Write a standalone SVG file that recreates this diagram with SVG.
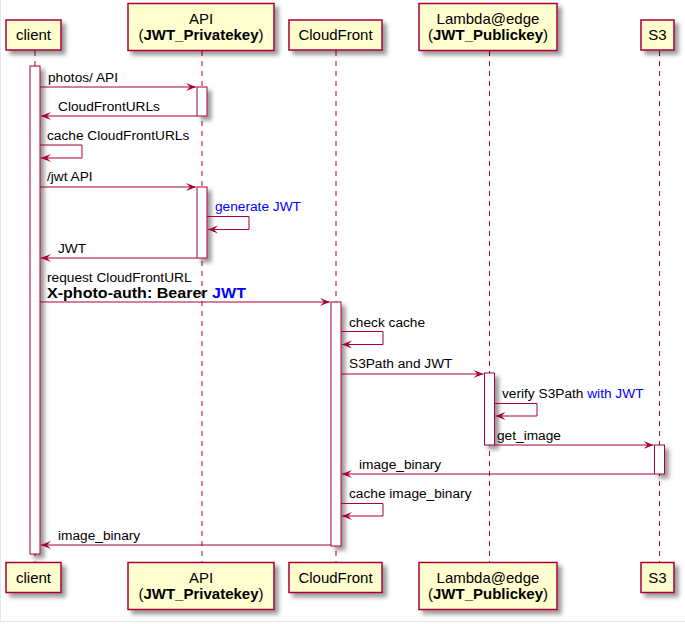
<svg xmlns="http://www.w3.org/2000/svg" width="685" height="624" viewBox="0 0 685 624">
<style>
.box{fill:#FEFECE;stroke:#A80036;stroke-width:1.5}
.act{fill:#FFFFFF;stroke:#A80036;stroke-width:1}
.life{stroke:#A80036;stroke-width:1;stroke-dasharray:5,5;fill:none}
.msg{stroke:#A80036;stroke-width:1;fill:none;marker-end:url(#ah)}
.pt{font-family:"Liberation Sans",Arial,sans-serif;font-size:15px;fill:#000;text-anchor:middle}
.mt{font-family:"Liberation Sans",Arial,sans-serif;font-size:13.7px;fill:#000}
.b{font-weight:bold}
.blue{fill:#0000FF}
</style>
<defs>
<filter id="sh" x="-1" y="-1" width="300%" height="300%">
<feGaussianBlur result="b1" stdDeviation="2"/>
<feColorMatrix in="b1" result="b2" type="matrix" values="0 0 0 0 0 0 0 0 0 0 0 0 0 0 0 0 0 0 .4 0"/>
<feOffset dx="4" dy="4" in="b2" result="b3"/>
<feBlend in="SourceGraphic" in2="b3" mode="normal"/>
</filter>
<marker id="ah" markerUnits="userSpaceOnUse" markerWidth="11" markerHeight="9" refX="10" refY="4" orient="auto" viewBox="0 0 11 9">
<path d="M0,0 L10,4 L0,8 L4,4 Z" fill="#A80036"/>
</marker>
</defs>
<rect x="0" y="0" width="685" height="624" fill="#FFFFFF"/>
<line x1="0.5" y1="0" x2="0.5" y2="622" stroke="#E6E6E6"/>
<line x1="0" y1="621.5" x2="685" y2="621.5" stroke="#E6E6E6"/>

<g id="lifelines">
<line class="life" x1="35" y1="51" x2="35" y2="562"/>
<line class="life" x1="202" y1="51" x2="202" y2="562"/>
<line class="life" x1="336" y1="51" x2="336" y2="562"/>
<line class="life" x1="489.5" y1="51" x2="489.5" y2="562"/>
<line class="life" x1="659.5" y1="51" x2="659.5" y2="562"/>
</g>

<g id="client">
<rect class="box" filter="url(#sh)" x="6" y="20" width="55" height="30"/>
<text class="pt" x="33.5" y="40">client</text>
<rect class="box" filter="url(#sh)" x="6" y="562.5" width="55" height="30"/>
<text class="pt" x="33.5" y="583">client</text>
<rect class="act" filter="url(#sh)" x="30" y="66" width="10" height="488"/>
</g>

<g id="api">
<rect class="box" filter="url(#sh)" x="128" y="3.5" width="146" height="47"/>
<text class="pt" x="201" y="24">API</text>
<text class="pt" x="201" y="40">(<tspan class="b">JWT_Privatekey</tspan>)</text>
<rect class="box" filter="url(#sh)" x="128" y="562.5" width="146" height="47"/>
<text class="pt" x="201" y="583">API</text>
<text class="pt" x="201" y="599">(<tspan class="b">JWT_Privatekey</tspan>)</text>
<rect class="act" filter="url(#sh)" x="197" y="87" width="10" height="29"/>
<rect class="act" filter="url(#sh)" x="197" y="187" width="10" height="71"/>
</g>

<g id="cloudfront">
<rect class="box" filter="url(#sh)" x="289" y="20" width="93" height="30"/>
<text class="pt" x="335.5" y="40">CloudFront</text>
<rect class="box" filter="url(#sh)" x="289" y="562.5" width="93" height="30"/>
<text class="pt" x="335.5" y="583">CloudFront</text>
<rect class="act" filter="url(#sh)" x="331" y="302" width="10" height="244"/>
</g>

<g id="lambda">
<rect class="box" filter="url(#sh)" x="419" y="3.5" width="138" height="47"/>
<text class="pt" x="488" y="24">Lambda@edge</text>
<text class="pt" x="488" y="40">(<tspan class="b">JWT_Publickey</tspan>)</text>
<rect class="box" filter="url(#sh)" x="419" y="562.5" width="138" height="47"/>
<text class="pt" x="488" y="583">Lambda@edge</text>
<text class="pt" x="488" y="599">(<tspan class="b">JWT_Publickey</tspan>)</text>
<rect class="act" filter="url(#sh)" x="484.5" y="373" width="10" height="72"/>
</g>

<g id="s3">
<rect class="box" filter="url(#sh)" x="641" y="20" width="33" height="30"/>
<text class="pt" x="657.5" y="40">S3</text>
<rect class="box" filter="url(#sh)" x="641" y="562.5" width="33" height="30"/>
<text class="pt" x="657.5" y="583">S3</text>
<rect class="act" filter="url(#sh)" x="654.5" y="445" width="10" height="29"/>
</g>

<g id="connectors">
<path class="msg" d="M40,87 H196"/>
<text class="mt" x="48" y="82">photos/ API</text>

<path class="msg" d="M197,116 H41"/>
<text class="mt" x="58" y="111">CloudFrontURLs</text>

<path class="msg" d="M40,145 H82 V158 H41"/>
<text class="mt" x="47" y="140">cache CloudFrontURLs</text>

<path class="msg" d="M40,187 H196"/>
<text class="mt" x="47" y="181">/jwt API</text>

<path class="msg" d="M207,216.5 H249 V229.5 H208"/>
<text class="mt blue" x="215" y="211">generate JWT</text>

<path class="msg" d="M197,258 H41"/>
<text class="mt" x="58" y="253">JWT</text>

<path class="msg" d="M40,302 H330"/>
<text class="mt" x="47" y="282">request CloudFrontURL</text>
<text class="mt b" style="font-size:15px" x="47" y="298" textLength="199" lengthAdjust="spacingAndGlyphs">X-photo-auth: Bearer <tspan class="blue">JWT</tspan></text>

<path class="msg" d="M341,331.5 H383 V344.5 H342"/>
<text class="mt" x="349" y="327">check cache</text>

<path class="msg" d="M341,374 H483.5"/>
<text class="mt" x="349" y="368">S3Path and JWT</text>

<path class="msg" d="M494.5,403.5 H537 V416 H495.5"/>
<text class="mt" x="502" y="398">verify S3Path <tspan class="blue">with JWT</tspan></text>

<path class="msg" d="M494.5,445 H653.5"/>
<text class="mt" x="497" y="440">get_image</text>

<path class="msg" d="M654.5,474 H342"/>
<text class="mt" x="359" y="469">image_binary</text>

<path class="msg" d="M341,503.5 H383 V516 H342"/>
<text class="mt" x="349" y="498">cache image_binary</text>

<path class="msg" d="M331,545 H41"/>
<text class="mt" x="58" y="540">image_binary</text>
</g>
</svg>
